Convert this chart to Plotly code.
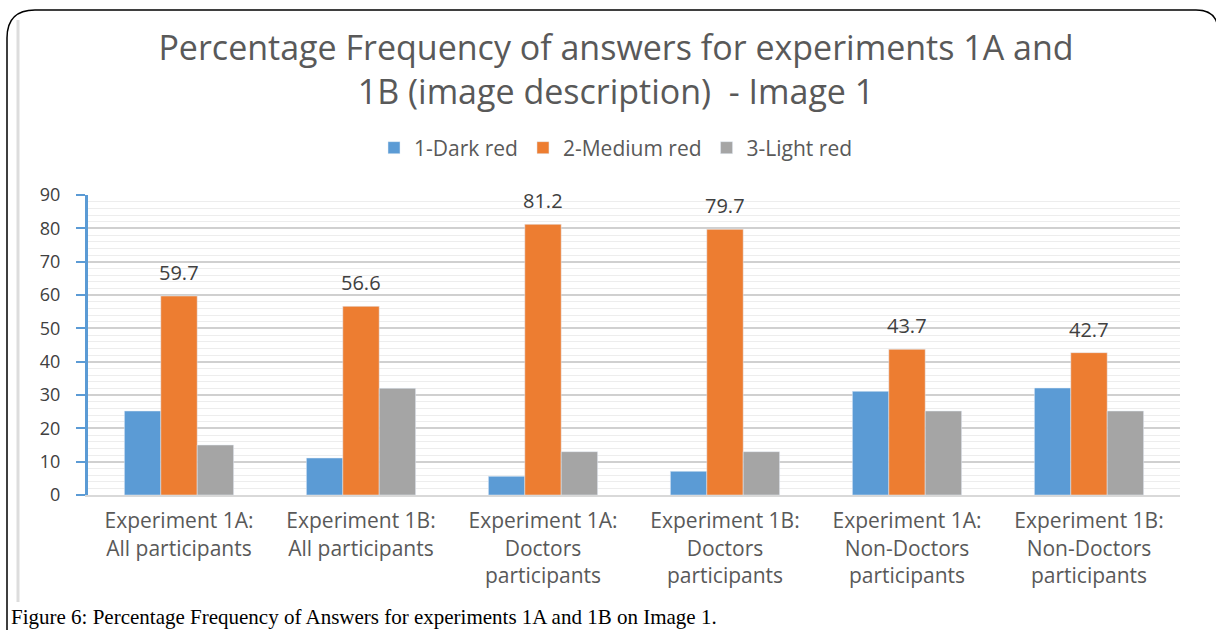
import plotly.graph_objects as go

categories = [
    "Experiment 1A:<br>All participants",
    "Experiment 1B:<br>All participants",
    "Experiment 1A:<br>Doctors<br>participants",
    "Experiment 1B:<br>Doctors<br>participants",
    "Experiment 1A:<br>Non-Doctors<br>participants",
    "Experiment 1B:<br>Non-Doctors<br>participants",
]
dark_red = [25.2, 11.1, 5.6, 7.1, 31.1, 32.1]
medium_red = [59.7, 56.6, 81.2, 79.7, 43.7, 42.7]
light_red = [15.0, 32.0, 13.0, 13.0, 25.2, 25.2]
series_names = ["1-Dark red", "2-Medium red", "3-Light red"]
y_ticks = [0, 10, 20, 30, 40, 50, 60, 70, 80, 90]

FONT = "Open Sans"
GREY = "#595959"

fig = go.Figure()
fig.add_bar(x=categories, y=dark_red, name=series_names[0], marker_color="#5B9BD5")
fig.add_bar(x=categories, y=medium_red, name=series_names[1], marker_color="#ED7D31")
fig.add_bar(x=categories, y=light_red, name=series_names[2], marker_color="#A5A5A5")

L, R, T, B = 88, 1180, 195, 495
W, H = R - L, B - T

def px(x):
    return (x - L) / W

def py(y):
    return (B - y) / H

# value labels of the middle (orange) series, placed through the axes
annotations = [
    dict(x=c, y=v, xref="x", yref="y", text=f"{v:.1f}", showarrow=False,
         yanchor="bottom", yshift=8, font=dict(size=20, color="#404040", family=FONT))
    for c, v in zip(categories, medium_red)
]
annotations.append(
    dict(text="Figure 6: Percentage Frequency of Answers for experiments 1A and 1B on Image 1.",
         xref="paper", yref="paper", x=px(9), y=py(617), xanchor="left", yanchor="middle",
         showarrow=False, font=dict(family="Liberation Serif", size=21, color="black"))
)

# rounded outer frame
r = 28
frame = (f"M {px(7)},{py(640)} L {px(7)},{py(10 + r)} "
         f"Q {px(7)},{py(10)} {px(7 + r)},{py(10)} "
         f"L {px(1196)},{py(10)} Q {px(1216)},{py(10)} {px(1218)},{py(28)}")

fig.update_layout(
    width=1216, height=630,
    margin=dict(l=L, r=1216 - R, t=T, b=630 - B),
    paper_bgcolor="white", plot_bgcolor="white",
    barmode="group", bargap=0.4, bargroupgap=0,
    font=dict(family=FONT, color=GREY),
    title=dict(text="Percentage Frequency of answers for experiments 1A and<br>1B (image description)  - Image 1",
               x=616 / 1216, xref="container", xanchor="center", y=1 - 60 / 630, yanchor="middle",
               font=dict(size=34, color=GREY, family=FONT)),
    legend=dict(orientation="h", x=px(616), xanchor="center", xref="paper",
                y=py(148), yanchor="middle", font=dict(size=21, color=GREY),
                itemwidth=30, traceorder="normal"),
    showlegend=True,
    xaxis=dict(tickfont=dict(size=21, color=GREY), showline=True, linecolor="#D9D9D9",
               linewidth=2, ticks="", showgrid=False, ticklabelstandoff=6),
    yaxis=dict(range=[0, 90], tickvals=y_ticks, tickfont=dict(size=18, color="#404040"),
               showline=True, linecolor="#5B9BD5", linewidth=3, ticks="outside",
               tickcolor="#5B9BD5", ticklen=9, tickwidth=2, ticklabelstandoff=12,
               showgrid=True, gridcolor="#D0D0D0", gridwidth=2,
               minor=dict(dtick=2, showgrid=True, gridcolor="#EDEDED", gridwidth=1),
               zeroline=False),
    shapes=[
        dict(type="path", xref="paper", yref="paper", path=frame,
             line=dict(color="black", width=1.5), layer="above"),
        dict(type="line", xref="paper", yref="paper", x0=px(18), x1=px(18),
             y0=py(20), y1=py(602), line=dict(color="#DDDDDD", width=3)),
    ],
    annotations=annotations,
)

fig.write_html("out.html", config={"displayModeBar": False},
               post_script="document.body.style.margin='0';document.body.style.overflow='hidden';")
